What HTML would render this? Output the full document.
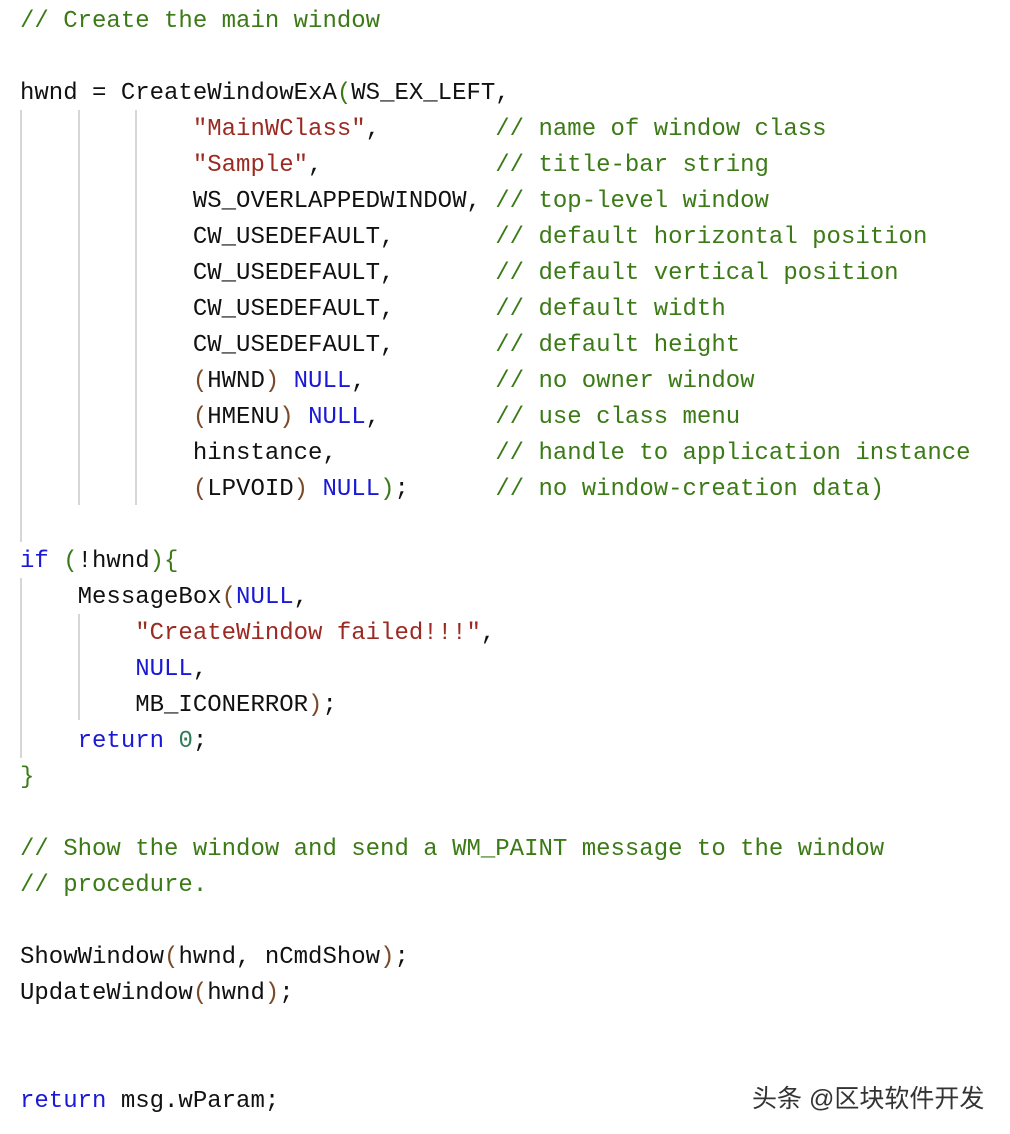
<!DOCTYPE html>
<html><head><meta charset="utf-8"><style>
body{margin:0;width:1010px;height:1134px;background:#fff;position:relative;overflow:hidden}
pre{margin:0;position:absolute;left:20px;top:4px;font:24px/36px "Liberation Mono",monospace;color:#111}
.c{color:#3b7a16}.s{color:#9a2a22}.k{color:#1a1ad6}.p{color:#7a4a2a}.g{color:#3b7a16}.n{color:#2e7d5a}
.v{position:absolute;width:2px;background:#d6d6d6}
.w{position:absolute;left:752px;top:1083px;font:25px/32px "Liberation Sans","Noto Sans CJK SC",sans-serif;color:#333}
</style></head><body>
<div class="v" style="left:20px;top:110px;height:432px"></div>
<div class="v" style="left:78px;top:110px;height:395px"></div>
<div class="v" style="left:135px;top:110px;height:395px"></div>
<div class="v" style="left:20px;top:578px;height:180px"></div>
<div class="v" style="left:78px;top:614px;height:106px"></div>
<pre><span class="c">// Create the main window</span>

hwnd = CreateWindowExA<span class="g">(</span>WS_EX_LEFT,
            <span class="s">"MainWClass"</span>,        <span class="c">// name of window class</span>
            <span class="s">"Sample"</span>,            <span class="c">// title-bar string</span>
            WS_OVERLAPPEDWINDOW, <span class="c">// top-level window</span>
            CW_USEDEFAULT,       <span class="c">// default horizontal position</span>
            CW_USEDEFAULT,       <span class="c">// default vertical position</span>
            CW_USEDEFAULT,       <span class="c">// default width</span>
            CW_USEDEFAULT,       <span class="c">// default height</span>
            <span class="p">(</span>HWND<span class="p">)</span> <span class="k">NULL</span>,         <span class="c">// no owner window</span>
            <span class="p">(</span>HMENU<span class="p">)</span> <span class="k">NULL</span>,        <span class="c">// use class menu</span>
            hinstance,           <span class="c">// handle to application instance</span>
            <span class="p">(</span>LPVOID<span class="p">)</span> <span class="k">NULL</span><span class="g">)</span>;      <span class="c">// no window-creation data)</span>

<span class="k">if</span> <span class="g">(</span>!hwnd<span class="g">){</span>
    MessageBox<span class="p">(</span><span class="k">NULL</span>,
        <span class="s">"CreateWindow failed!!!"</span>,
        <span class="k">NULL</span>,
        MB_ICONERROR<span class="p">)</span>;
    <span class="k">return</span> <span class="n">0</span>;
<span class="g">}</span>

<span class="c">// Show the window and send a WM_PAINT message to the window</span>
<span class="c">// procedure.</span>

ShowWindow<span class="p">(</span>hwnd, nCmdShow<span class="p">)</span>;
UpdateWindow<span class="p">(</span>hwnd<span class="p">)</span>;


<span class="k">return</span> msg.wParam;</pre>
<div class="w">头条 @区块软件开发</div>
</body></html>
